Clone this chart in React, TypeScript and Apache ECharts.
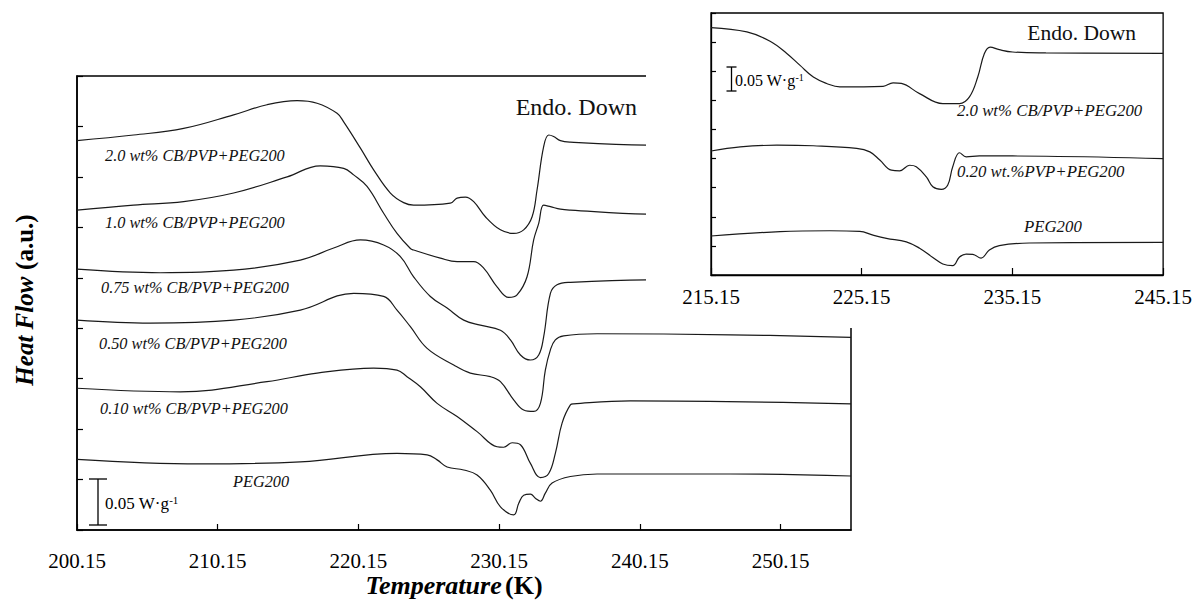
import React, { useEffect, useRef } from "react";
import * as echarts from "echarts";

const FONT = "Liberation Serif";
const INK = "#1a1a1a";

// ---------- Main panel data: [Temperature (K), Heat flow (a.u.)] ----------
const mainCB20 = [
  [200.15, 7.72], [204.17, 7.83], [207.73, 7.96], [211.28, 8.23], [213.65, 8.43],
  [215.79, 8.51], [217.21, 8.46], [218.63, 8.26], [219.1, 8.09], [220.29, 7.57],
  [221.23, 7.14], [222.42, 6.68], [223.36, 6.49], [224.07, 6.44], [226.68, 6.48],
  [227.16, 6.58], [227.75, 6.6], [228.34, 6.51], [229.17, 6.21], [230.24, 5.95],
  [231.18, 5.88], [231.89, 5.95], [232.49, 6.21], [232.84, 6.74], [233.31, 7.6],
  [233.67, 7.83], [234.02, 7.8], [234.5, 7.72], [235.21, 7.69], [240.61, 7.63],
  [255.15, 7.6],
];
const mainCB10 = [
  [200.15, 6.34], [204.17, 6.44], [207.73, 6.51], [211.28, 6.68], [215.08, 7.0],
  [217.44, 7.22], [219.1, 7.17], [219.81, 7.04], [220.76, 6.81], [221.94, 6.28],
  [222.89, 5.88], [223.84, 5.58], [224.07, 5.55], [225.97, 5.39], [227.16, 5.32],
  [228.34, 5.32], [229.05, 5.19], [230.0, 4.82], [230.83, 4.61], [231.42, 4.66],
  [232.13, 5.02], [232.6, 5.75], [232.96, 6.08], [233.31, 6.44], [233.79, 6.41],
  [234.5, 6.36], [235.21, 6.34], [240.61, 6.26], [255.15, 6.22],
];
const mainCB075 = [
  [200.15, 5.17], [206.07, 5.1], [211.28, 5.15], [216.02, 5.35], [218.39, 5.59],
  [220.29, 5.75], [221.94, 5.65], [223.13, 5.42], [224.07, 5.02], [225.26, 4.63],
  [226.45, 4.4], [227.63, 4.16], [228.81, 4.06], [230.24, 3.96], [230.95, 3.77],
  [231.66, 3.47], [232.37, 3.37], [232.96, 3.47], [233.31, 3.83], [233.79, 4.69],
  [234.26, 4.86], [235.21, 4.91], [240.61, 4.96], [255.15, 4.96],
];
const mainCB050 = [
  [200.15, 4.16], [205.36, 4.1], [211.28, 4.16], [216.02, 4.36], [219.81, 4.69],
  [221.94, 4.63], [222.89, 4.36], [223.84, 4.03], [225.03, 3.6], [226.92, 3.27],
  [228.1, 3.11], [229.52, 3.04], [230.24, 2.94], [231.18, 2.58], [231.89, 2.38],
  [232.6, 2.35], [233.08, 2.51], [233.43, 3.17], [233.79, 3.57], [234.14, 3.77],
  [234.73, 3.85], [237.11, 3.89], [246.58, 3.87], [255.15, 3.82],
];
const mainCB010 = [
  [200.15, 2.81], [207.49, 2.74], [213.65, 2.94], [217.21, 3.11], [221.23, 3.21],
  [222.89, 3.17], [223.6, 3.04], [224.55, 2.84], [225.74, 2.51], [227.16, 2.25],
  [228.58, 1.95], [230.0, 1.65], [230.47, 1.64], [231.07, 1.73], [231.66, 1.69],
  [232.37, 1.32], [233.08, 1.04], [233.67, 1.12], [234.14, 1.52], [234.62, 2.12],
  [235.21, 2.48], [235.44, 2.5], [239.47, 2.56], [255.15, 2.5],
];
const mainPEG = [
  [200.15, 1.4], [208.91, 1.31], [216.02, 1.35], [222.89, 1.52], [225.03, 1.49],
  [225.74, 1.39], [226.45, 1.25], [227.63, 1.19], [228.58, 1.09], [229.52, 0.79],
  [230.24, 0.46], [231.18, 0.3], [231.54, 0.53], [231.89, 0.69], [232.37, 0.71],
  [232.72, 0.63], [233.08, 0.57], [233.43, 0.73], [233.91, 0.93], [235.21, 1.06],
  [237.11, 1.11], [246.58, 1.11], [255.15, 1.07],
];

// ---------- Inset data ----------
const insetCB20 = [
  [215.15, 8.5], [217.53, 8.35], [219.07, 8.03], [220.18, 7.61], [221.06, 7.2],
  [221.94, 6.8], [222.82, 6.58], [223.7, 6.46], [226.57, 6.48], [227.23, 6.6],
  [227.78, 6.58], [228.99, 6.23], [230.53, 5.89], [231.64, 5.89], [232.3, 6.12],
  [232.85, 6.8], [233.29, 7.61], [233.67, 7.83], [234.28, 7.74], [235.16, 7.66],
  [237.37, 7.63], [245.15, 7.61],
];
const insetPVP020 = [
  [215.15, 4.26], [217.09, 4.4], [219.52, 4.46], [221.94, 4.44], [224.81, 4.35],
  [225.69, 4.23], [226.35, 3.95], [227.12, 3.6], [227.67, 3.58], [228.33, 3.77],
  [228.77, 3.72], [229.44, 3.37], [229.87, 3.03], [230.43, 2.94], [230.86, 3.09],
  [231.19, 3.72], [231.64, 4.2], [232.08, 4.06], [232.96, 4.09], [237.37, 4.08],
  [245.15, 4.0],
];
const insetPEG = [
  [215.15, 1.34], [219.73, 1.49], [223.04, 1.52], [225.02, 1.5], [225.9, 1.37],
  [226.79, 1.26], [228.11, 1.14], [228.99, 0.92], [229.87, 0.6], [230.53, 0.38],
  [231.19, 0.32], [231.64, 0.62], [232.08, 0.72], [232.52, 0.71], [233.07, 0.58],
  [233.62, 0.86], [234.28, 1.01], [236.27, 1.1], [245.15, 1.12],
];

const mainTickValues = [200.15, 210.15, 220.15, 230.15, 240.15, 250.15];
const insetTickValues = [215.15, 225.15, 235.15, 245.15];

const mainNames = [
  "2.0 wt% CB/PVP+PEG200",
  "1.0 wt% CB/PVP+PEG200",
  "0.75 wt% CB/PVP+PEG200",
  "0.50 wt% CB/PVP+PEG200",
  "0.10 wt% CB/PVP+PEG200",
  "PEG200",
];
const insetNames = ["2.0 wt% CB/PVP+PEG200", "0.20 wt.%PVP+PEG200", "PEG200"];
const mainSeriesData = [mainCB20, mainCB10, mainCB075, mainCB050, mainCB010, mainPEG];
const insetSeriesData = [insetCB20, insetPVP020, insetPEG];

// label layout (pixels)
const mainLabelPos = [[105, 155], [105, 222], [101, 287], [99, 343], [100, 408], [233, 481]];
const insetLabelPos = [[957, 110], [957, 171], [1024, 226]];

function lineSeries(name: string, data: number[][], axis: number, z: number) {
  return {
    type: "line",
    name,
    data,
    xAxisIndex: axis,
    yAxisIndex: axis,
    showSymbol: false,
    symbol: "none",
    smooth: 0.4,
    silent: true,
    z,
    lineStyle: { color: INK, width: 1.2 },
  };
}

function scaleBar(x: number, y1: number, y2: number, cap: number, z: number) {
  return [
    { type: "line", z, shape: { x1: x, y1, x2: x, y2 }, style: { stroke: "#000", lineWidth: 1.3 } },
    { type: "line", z, shape: { x1: x - cap, y1, x2: x + cap, y2: y1 }, style: { stroke: "#000", lineWidth: 1.3 } },
    { type: "line", z, shape: { x1: x - cap, y1: y2, x2: x + cap, y2 }, style: { stroke: "#000", lineWidth: 1.3 } },
  ];
}

function scaleText(x: number, y: number, size: number, z: number) {
  return {
    type: "text",
    z,
    x,
    y,
    style: {
      text: "0.05 W·g{sup|-1}",
      fontFamily: FONT,
      fontSize: size,
      fill: "#000",
      verticalAlign: "middle",
      align: "left",
      rich: { sup: { fontFamily: FONT, fontSize: Math.round(size * 0.62), verticalAlign: "top", fill: "#000" } },
    },
  };
}

export default function App() {
  const ref = useRef<HTMLDivElement>(null);
  useEffect(() => {
    if (!ref.current) return;
    const chart = echarts.init(ref.current, null, { renderer: "svg" });
    const labelFmt = (v: number) => v.toFixed(2);
    const option: any = {
      animation: false,
      backgroundColor: "#fff",
      textStyle: { fontFamily: FONT },
      grid: [
        { left: 77, top: 76, width: 774, height: 454, show: true, borderColor: "#000", borderWidth: 1.5, backgroundColor: "transparent", z: 0 },
        { left: 711, top: 13, width: 453, height: 262, show: true, borderColor: "#000", borderWidth: 1.3, backgroundColor: "transparent", z: 11 },
      ],
      xAxis: [
        {
          type: "value", gridIndex: 0, min: 200.15, max: 255.15, z: 1,
          axisLine: { show: true, lineStyle: { color: "#000", width: 1.5 } },
          axisTick: { show: true, inside: true, length: 6, customValues: mainTickValues, lineStyle: { color: "#000", width: 1.2 } },
          axisLabel: { show: true, customValues: mainTickValues, formatter: labelFmt, margin: 20, fontSize: 21, fontFamily: FONT, color: "#000", hideOverlap: false },
          splitLine: { show: false },
        },
        {
          type: "value", gridIndex: 1, min: 215.15, max: 245.15, z: 11,
          axisLine: { show: true, lineStyle: { color: "#000", width: 1.3 } },
          axisTick: { show: true, inside: true, length: 7, customValues: insetTickValues, lineStyle: { color: "#000", width: 1.2 } },
          axisLabel: { show: true, customValues: insetTickValues, formatter: labelFmt, margin: 11, fontSize: 21, fontFamily: FONT, color: "#000", hideOverlap: false },
          splitLine: { show: false },
        },
      ],
      yAxis: [
        {
          type: "value", gridIndex: 0, min: 0, max: 9, interval: 1, z: 1,
          axisLine: { show: true, lineStyle: { color: "#000", width: 1.5 } },
          axisTick: { show: true, inside: true, length: 6, lineStyle: { color: "#000", width: 1.2 } },
          axisLabel: { show: false },
          splitLine: { show: false },
        },
        {
          type: "value", gridIndex: 1, min: 0, max: 9, interval: 1, z: 11,
          axisLine: { show: true, lineStyle: { color: "#000", width: 1.3 } },
          axisTick: { show: true, inside: true, length: 5, lineStyle: { color: "#000", width: 1.2 } },
          axisLabel: { show: false },
          splitLine: { show: false },
        },
      ],
      series: [
        ...mainSeriesData.map((d, i) => lineSeries(mainNames[i], d, 0, 2)),
        ...insetSeriesData.map((d, i) => lineSeries("inset " + insetNames[i], d, 1, 12)),
      ],
      graphic: [
        { type: "rect", z: 10, silent: true, shape: { x: 646, y: 0, width: 549, height: 328 }, style: { fill: "#fff" } },
        ...mainNames.map((n, i) => ({
          type: "text", z: 5, x: mainLabelPos[i][0], y: mainLabelPos[i][1],
          style: { text: n, fontFamily: FONT, fontStyle: "italic", fontSize: 16.3, fill: "#111", verticalAlign: "middle", align: "left" },
        })),
        {
          type: "text", z: 5, x: 637, y: 107,
          style: { text: "Endo. Down", fontFamily: FONT, fontSize: 24, fill: "#111", verticalAlign: "middle", align: "right" },
        },
        ...scaleBar(98, 479, 525, 9, 5),
        scaleText(105, 503, 17, 5),
        ...insetNames.map((n, i) => ({
          type: "text", z: 13, x: insetLabelPos[i][0], y: insetLabelPos[i][1],
          style: { text: n, fontFamily: FONT, fontStyle: "italic", fontSize: 16.8, fill: "#111", verticalAlign: "middle", align: "left" },
        })),
        {
          type: "text", z: 13, x: 1136, y: 33,
          style: { text: "Endo. Down", fontFamily: FONT, fontSize: 21.5, fill: "#111", verticalAlign: "middle", align: "right" },
        },
        ...scaleBar(731.5, 67, 91, 5, 13),
        scaleText(735, 80, 16, 13),
        {
          type: "text", z: 5, x: 24, y: 300, rotation: Math.PI / 2,
          style: {
            text: "{a|Heat Flow}  {b|(a.u.)}",
            align: "center", verticalAlign: "middle",
            rich: {
              a: { fontFamily: FONT, fontStyle: "italic", fontWeight: "bold", fontSize: 25, fill: "#000" },
              b: { fontFamily: FONT, fontWeight: "bold", fontSize: 25, fill: "#000" },
            },
          },
        },
        {
          type: "text", z: 5, x: 454, y: 585,
          style: {
            text: "{a|Temperature} {b|(K)}",
            align: "center", verticalAlign: "middle",
            rich: {
              a: { fontFamily: FONT, fontStyle: "italic", fontWeight: "bold", fontSize: 26, fill: "#000" },
              b: { fontFamily: FONT, fontWeight: "bold", fontSize: 26, fill: "#000" },
            },
          },
        },
      ],
    };
    chart.setOption(option);
    return () => chart.dispose();
  }, []);
  return (
    <div
      ref={ref}
      style={{ position: "absolute", left: 0, top: 0, width: 1195, height: 601, background: "#fff" }}
    />
  );
}
